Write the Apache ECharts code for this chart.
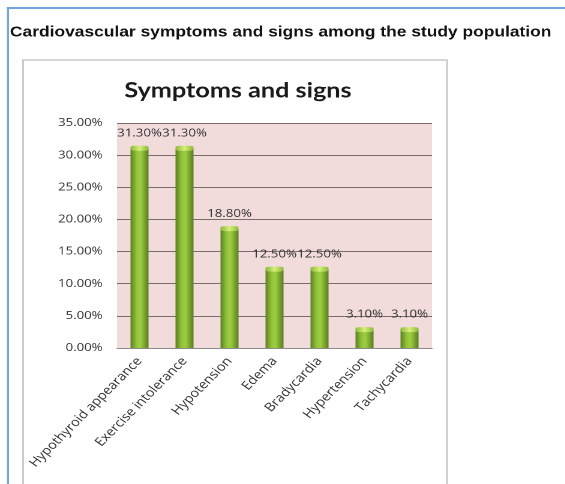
<!DOCTYPE html>
<html>
<head>
<meta charset="utf-8">
<script src="https://cdn.jsdelivr.net/npm/echarts@6/dist/echarts.min.js"></script>
<style>
  html, body { margin: 0; padding: 0; background: #fff; overflow: hidden; }
  /* the figure is drawn narrow and widened horizontally */
  #chart { width: 471px; height: 484px; transform: scaleX(1.2); transform-origin: 0 0; }
</style>
</head>
<body>
<div id="chart"></div>
<script>
// Share of patients showing each cardiovascular finding (percent)
const categories = ['Hypothyroid appearance', 'Exercise intolerance', 'Hypotension', 'Edema', 'Bradycardia', 'Hypertension', 'Tachycardia'];
const values = [31.3, 31.3, 18.8, 12.5, 12.5, 3.1, 3.1];
const yTicks = [0, 5, 10, 15, 20, 25, 30, 35];

const chart = echarts.init(document.getElementById('chart'), null, { renderer: 'canvas', devicePixelRatio: 2 });

const barFill = new echarts.graphic.LinearGradient(0, 0, 1, 0, [
  { offset: 0, color: '#5c8122' },
  { offset: 0.35, color: '#94c43b' },
  { offset: 0.55, color: '#9dce40' },
  { offset: 1, color: '#5a7d20' }
]);
const capFill = new echarts.graphic.LinearGradient(0, 0, 1, 0, [
  { offset: 0, color: '#8db83a' },
  { offset: 0.5, color: '#d6f07a' },
  { offset: 1, color: '#8db83a' }
]);

const pct = v => v.toFixed(2) + '%';

chart.setOption({
  animation: false,
  backgroundColor: '#ffffff',
  graphic: [
    // page frame
    { type: 'rect', shape: { x: 5.8, y: 7, width: 480, height: 2 }, style: { fill: '#6fa8dc' }, z: 10 },
    { type: 'rect', shape: { x: 5.8, y: 7, width: 1.7, height: 490 }, style: { fill: '#6fa8dc' }, z: 10 },
    // chart box
    { type: 'rect', shape: { x: 19.2, y: 60, width: 353.3, height: 440 }, style: { fill: 'none', stroke: '#c8c8c8', lineWidth: 1.5 }, z: -1 }
  ],
  title: [
    {
      text: 'Cardiovascular symptoms and signs among the study population',
      left: 8.3, top: 25, padding: 0,
      textStyle: { fontFamily: 'Liberation Sans, Arial', fontWeight: 'bold', fontSize: 14.5, color: '#111' }
    },
    {
      text: 'Symptoms and signs',
      left: 198.3, top: 80, padding: 0, textAlign: 'center',
      textStyle: { fontFamily: 'Lato, Open Sans', fontWeight: 'bold', fontSize: 21, color: '#1a1a1a' }
    }
  ],
  grid: { left: 97.5, right: 111, top: 123, bottom: 136, show: true, backgroundColor: '#f1dbdb', borderWidth: 0 },
  xAxis: {
    type: 'category',
    data: categories,
    axisLine: { show: true, lineStyle: { color: '#8c8c8c', width: 1 } },
    axisTick: { show: false },
    axisLabel: { rotate: 50, interval: 0, margin: 11, fontFamily: 'Open Sans, Noto Sans', fontSize: 12, color: '#333' }
  },
  yAxis: {
    type: 'value',
    min: yTicks[0], max: yTicks[yTicks.length - 1], interval: 5,
    axisLine: { show: false },
    axisTick: { show: false },
    splitLine: { lineStyle: { color: '#7a6c6c', width: 1 } },
    axisLabel: {
      margin: 12, fontFamily: 'Open Sans, Noto Sans', fontSize: 11, color: '#333',
      formatter: pct
    }
  },
  series: [
    {
      type: 'bar',
      data: values,
      barWidth: 15,
      itemStyle: { color: barFill, borderRadius: [3, 3, 0, 0] },
      label: {
        show: true, position: 'top', distance: 8,
        fontFamily: 'Open Sans, Noto Sans', fontSize: 11, color: '#333',
        formatter: p => pct(p.value)
      }
    },
    {
      // light rim on top of each bar
      type: 'pictorialBar',
      data: values,
      symbol: 'roundRect',
      symbolSize: [15, 5],
      symbolPosition: 'end',
      symbolOffset: [0, '-20%'],
      itemStyle: { color: capFill },
      z: 3,
      silent: true
    }
  ]
});
</script>
</body>
</html>
